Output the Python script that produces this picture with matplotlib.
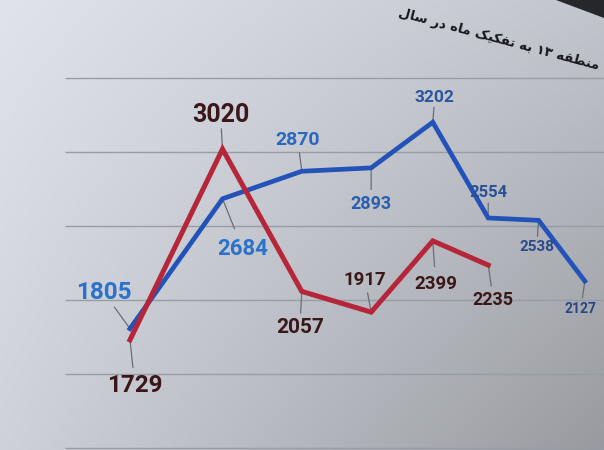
import numpy as np
import matplotlib
matplotlib.use('Agg')
import matplotlib.pyplot as plt
from matplotlib.patches import Polygon

# ---------------- data ----------------
months = [1, 2, 3, 4, 5, 6, 7, 8]
blue_values = [1805, 2684, 2870, 2893, 3202, 2554, 2538, 2127]
red_values = [1729, 3020, 2057, 1917, 2399, 2235]
grid_values = [1000, 1500, 2000, 2500, 3000, 3500]
title_text = 'منطقه ۱۳ به تفکیک ماه در سال'

# ---------------- label styling (offsets in pixels, font sizes) ----------------
blue_offsets = [(-26, 36), (20, -50), (-4, 31), (0, -36), (2, 25), (0, 25), (-2, -27), (-4, -28)]
blue_sizes = [17.5, 16, 14, 13, 12.5, 12, 11, 10]
red_offsets = [(5, -46), (-2, 34), (-2, -36), (-6, 32), (3, -43), (5, -35)]
red_sizes = [17.5, 18, 15, 13.5, 13.5, 13]

BLUE = '#2352b8'
RED = '#b5263a'
BLUE_TXT = ['#2a72cc', '#2a72cc', '#2a68c0', '#2a5fb0', '#2a56a0', '#2a4f94', '#2a4a8c', '#2a4584']
RED_TXT = '#3a1719'


# ---------------- minimal Persian shaping for the title ----------------
FORMS = {
    'ا': ('\uFE8D', '\uFE8E', None, None),
    'ب': ('\uFE8F', '\uFE90', '\uFE91', '\uFE92'),
    'ت': ('\uFE95', '\uFE96', '\uFE97', '\uFE98'),
    'د': ('\uFEA9', '\uFEAA', None, None),
    'ر': ('\uFEAD', '\uFEAE', None, None),
    'س': ('\uFEB1', '\uFEB2', '\uFEB3', '\uFEB4'),
    'ط': ('\uFEC1', '\uFEC2', '\uFEC3', '\uFEC4'),
    'ف': ('\uFED1', '\uFED2', '\uFED3', '\uFED4'),
    'ق': ('\uFED5', '\uFED6', '\uFED7', '\uFED8'),
    'ل': ('\uFEDD', '\uFEDE', '\uFEDF', '\uFEE0'),
    'م': ('\uFEE1', '\uFEE2', '\uFEE3', '\uFEE4'),
    'ن': ('\uFEE5', '\uFEE6', '\uFEE7', '\uFEE8'),
    'ه': ('\uFEE9', '\uFEEA', '\uFEEB', '\uFEEC'),
    'ک': ('\uFB8E', '\uFB8F', '\uFB90', '\uFB91'),
    'ی': ('\uFBFC', '\uFBFD', '\uFBFE', '\uFBFF'),
}


def shape_rtl(s):
    out = []
    for i, c in enumerate(s):
        if c not in FORMS:
            out.append(c)
            continue
        iso, fin, ini, med = FORMS[c]
        prev = s[i - 1] if i > 0 else ''
        nxt = s[i + 1] if i + 1 < len(s) else ''
        jp = prev in FORMS and FORMS[prev][2] is not None
        jn = ini is not None and nxt in FORMS
        if jp and jn:
            out.append(med)
        elif jp:
            out.append(fin)
        elif jn:
            out.append(ini)
        else:
            out.append(iso)
    # visual order: reverse, keeping digit runs left-to-right
    tokens = []
    for ch in out:
        isd = ch.isdigit()
        if tokens and tokens[-1][0] == isd:
            tokens[-1][1].append(ch)
        else:
            tokens.append([isd, [ch]])
    vis = []
    for isd, chars in reversed(tokens):
        vis.append(''.join(chars if isd else reversed(chars)))
    return ''.join(vis)


# ---------------- figure ----------------
fig = plt.figure(figsize=(6.04, 4.5), dpi=100)

# photographed-screen background
bg = fig.add_axes([0, 0, 1, 1])
bg.set_axis_off()
yy, xx = np.mgrid[0:1:225j, 0:1:302j]
shade = 0.90 - 0.12 * xx - 0.07 * yy - 0.10 * xx * yy
img = np.clip(np.dstack([shade * 0.975, shade * 0.99, shade * 1.025]), 0, 1)
bg.imshow(img, extent=[0, 1, 0, 1], aspect='auto', origin='upper', interpolation='bilinear')
bg.add_patch(Polygon([(0.92, 1.0), (1.0, 1.0), (1.0, 0.96)], closed=True,
                     facecolor='#25272b', edgecolor='none'))
bg.set_xlim(0, 1)
bg.set_ylim(0, 1)

ax = fig.add_axes([0, 0, 1, 1])
ax.patch.set_alpha(0)
ax.set_xscale('function', functions=(lambda x: np.log(np.asarray(x) + 4.5),
                                      lambda y: np.exp(np.asarray(y)) - 4.5))
ax.set_xlim(-0.15, 8.44)
ax.set_ylim(984, 4029)
ax.set_axis_off()

ax.hlines(grid_values, 0.39, 9, color='#979da5', lw=1.0, zorder=1)

ax.plot(months[:len(blue_values)], blue_values, color=BLUE, lw=3.4, zorder=3,
        solid_joinstyle='miter')
ax.plot(months[:len(red_values)], red_values, color=RED, lw=3.6, zorder=4,
        solid_joinstyle='miter')

lab_font = ['Roboto', 'DejaVu Sans']


def label(x, v, off, size, color):
    ax.annotate('', xy=(x, v), xytext=(off[0] * 0.6, off[1] * 0.6),
                textcoords='offset pixels',
                arrowprops=dict(arrowstyle='-', color='#6a6e74', lw=0.9,
                                shrinkA=0, shrinkB=0), zorder=2)
    ax.annotate(f'{v}', xy=(x, v), xytext=off, textcoords='offset pixels',
                ha='center', va='center', fontsize=size, fontweight='bold',
                family=lab_font, color=color, zorder=5)


for i, v in enumerate(blue_values):
    label(months[i], v, blue_offsets[i], blue_sizes[i], BLUE_TXT[i])
for i, v in enumerate(red_values):
    label(months[i], v, red_offsets[i], red_sizes[i], RED_TXT)

fig.text(599 / 604, 1 - 66 / 450, shape_rtl(title_text), ha='right', va='center',
         rotation=-15, rotation_mode='anchor', fontsize=9.5, fontweight='bold',
         family=['DejaVu Sans'], color='#15171a')

fig.savefig('out.png', dpi=100)
